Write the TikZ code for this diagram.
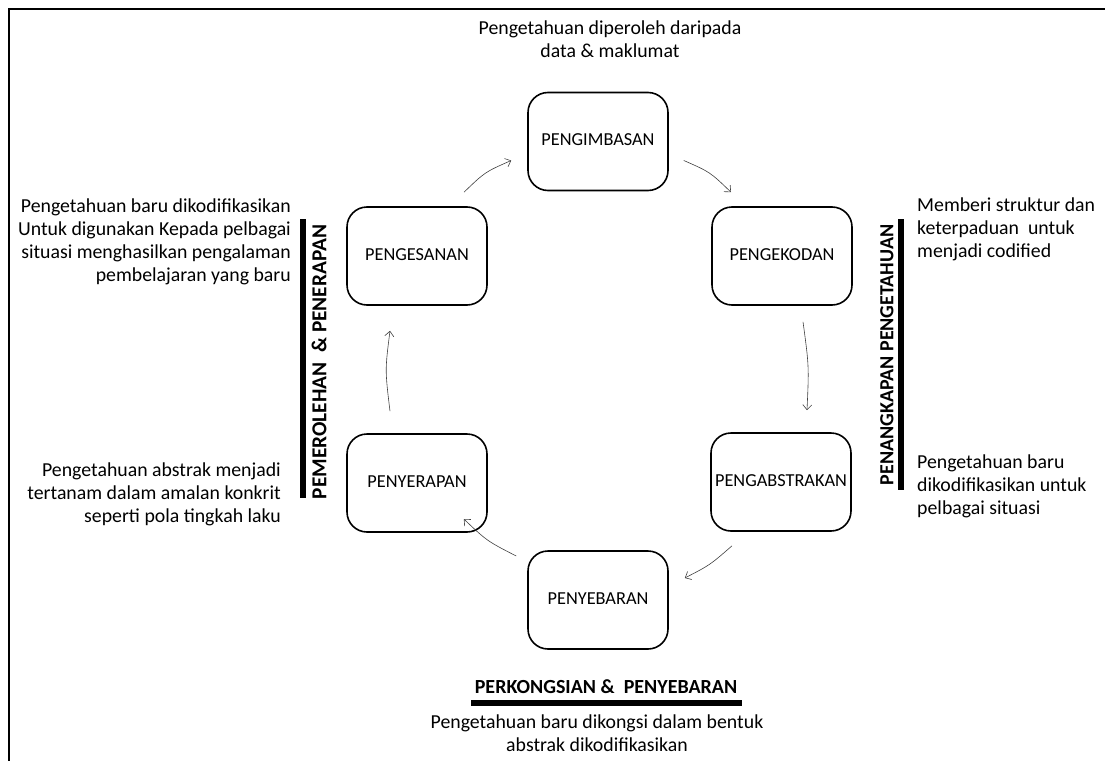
\documentclass[tikz,border=0pt]{standalone}
\usepackage{fontspec}
\setmainfont{Carlito}
\usetikzlibrary{calc,arrows.meta}
\tikzset{
  stage/.style={draw=black, line width=1.6pt, rounded corners=20pt, minimum width=140pt, minimum height=98pt, inner sep=0pt, font=\fontsize{18.3}{22}\selectfont, align=center},
  side/.style={font=\fontsize{19.8}{22.8}\selectfont, inner sep=0pt},
  head/.style={font=\fontsize{20}{23}\selectfont\bfseries, inner sep=0pt},
  bar/.style={fill=black, draw=none},
  cyc/.style={draw=black!75, line width=0.6pt, -{Straight Barb[length=5pt,width=9pt]}},
}
\begin{document}
\begin{tikzpicture}[x=1pt,y=-1pt]
\useasboundingbox (0,0) rectangle (1105,760);
% frame
\draw[line width=2.2pt] (9,761) -- (9,9) -- (1106,9);

% stages
\node[stage] (pgi) at (598,141.5) {\raisebox{3pt}{PENGIMBASAN}};
\node[stage] (pgk) at (782,256) {\raisebox{3pt}{PENGEKODAN}};
\node[stage] (pga) at (781,482) {\raisebox{3pt}{PENGABSTRAKAN}};
\node[stage] (pyb) at (598,600) {\raisebox{3pt}{PENYEBARAN}};
\node[stage] (pyr) at (417,483) {\raisebox{3pt}{PENYERAPAN}};
\node[stage] (pgs) at (417,256) {\raisebox{3pt}{PENGESANAN}};

% cycle arrows
\draw[cyc] ($(pgs.north)+(47,-14)$) .. controls (485,172) .. ($(pgi.west)+(-16,19)$);
\draw[cyc] ($(pgi.east)+(15,19)$) .. controls (710,172) .. ($(pgk.north)+(-51,-14)$);
\draw[cyc] ($(pgk.south)+(21,16)$) .. controls (809,366) .. ($(pga.north)+(26,-22)$);
\draw[cyc] ($(pga.south)+(-49,14)$) .. controls (710,565) .. ($(pyb.east)+(16,-22)$);
\draw[cyc] ($(pyb.west)+(-11,-44)$) .. controls (487,541) .. ($(pyr.east)+(-24,36)$);
\draw[cyc] ($(pyr.north)+(-27,-22)$) .. controls (385,370) .. ($(pgs.south)+(-27,25)$);

% texts
\node[side, align=center] (ttop) at (610,39) {Pengetahuan diperoleh daripada\\data \& maklumat};
\node[side, align=right, anchor=north east] (tlt) at (291,199) {Pengetahuan baru dikodifikasikan\\Untuk digunakan Kepada pelbagai\\situasi menghasilkan pengalaman\\pembelajaran yang baru};
\node[side, align=right, anchor=north east] (tlb) at (281,463) {Pengetahuan abstrak menjadi\\tertanam dalam amalan konkrit\\seperti pola tingkah laku};
\node[side, align=left, anchor=north west] (trt) at (917,198) {Memberi struktur dan\\keterpaduan\ \ untuk\\menjadi codified};
\node[side, align=left, anchor=north west] (trb) at (917,455) {Pengetahuan baru\\dikodifikasikan untuk\\pelbagai situasi};
\node[side, align=center] (tbot) at (597,733) {Pengetahuan baru dikongsi dalam bentuk\\abstrak dikodifikasikan};

% headings and bars
\fill[bar] (300,219) rectangle (306,498);
\node[head, rotate=90, font=\fontsize{21.3}{24}\selectfont\bfseries] (hl) at (319,362) {PEMEROLEHAN\ \ \& PENERAPAN};
\fill[bar] (898,219) rectangle (904,490);
\node[head, rotate=90] (hr) at (887,355) {PENANGKAPAN PENGETAHUAN};
\fill[bar] (471,700) rectangle (742,706);
\node[head] (hb) at (606,687) {PERKONGSIAN \&\ \ PENYEBARAN};
\end{tikzpicture}
\end{document}
